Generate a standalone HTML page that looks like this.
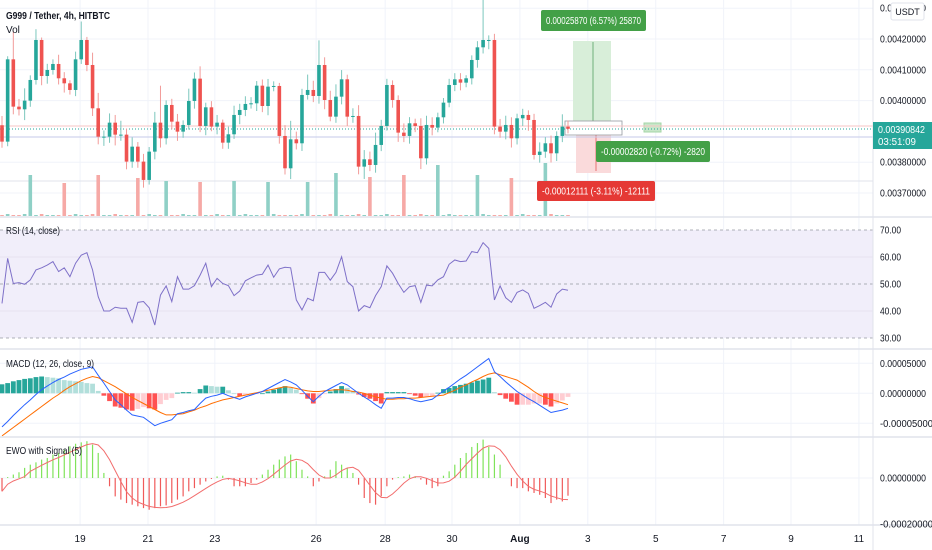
<!DOCTYPE html>
<html><head><meta charset="utf-8"><style>
body{margin:0;background:#fff;overflow:hidden}
svg{display:block;font-family:"Liberation Sans",sans-serif}
</style></head><body>
<svg id="c" width="932" height="550" viewBox="0 0 932 550">
<rect x="0" y="0" width="932" height="550" fill="#fff"/>
<g id="grid"></g>
<g id="main"></g>
<g id="rsi"></g>
<g id="macd"></g>
<g id="ewo"></g>
<g id="axes"></g>
<text x="6" y="19" font-size="10" font-weight="bold" fill="#131722" textLength="104" lengthAdjust="spacingAndGlyphs">G999 / Tether, 4h, HITBTC</text>
<text x="6" y="33" font-size="10" fill="#131722">Vol</text>
<text x="6" y="234" font-size="10" fill="#131722" textLength="54" lengthAdjust="spacingAndGlyphs">RSI (14, close)</text>
<text x="6" y="367" font-size="10" fill="#131722" textLength="88" lengthAdjust="spacingAndGlyphs">MACD (12, 26, close, 9)</text>
<text x="6" y="454" font-size="10" fill="#131722" textLength="76" lengthAdjust="spacingAndGlyphs">EWO with Signal (5)</text>
</svg>
<script>
// ---- data (prices in 1e-8 units) ----
const closes=[386680,413400,398040,397170,399990,406700,419680,407990,409940,411890,407240,405610,403450,413400,419680,411560,397500,388300,388300,392840,388950,388950,380190,385050,380190,374240,383430,392840,387760,398580,393170,389920,392090,399880,407130,391760,397820,391550,392840,386350,389060,395340,396960,398910,399120,404850,398250,404530,404750,388520,378020,387430,386140,401830,403450,401500,411560,400200,394790,401280,406910,394790,395010,378560,380940,379100,385600,391760,405070,400200,389600,388520,392630,391760,381270,392090,391220,394580,399340,405070,406910,405830,407240,413190,417300,419680,419680,391550,389920,392090,387760,394250,395340,393710,382350,383430,386140,382890,388520,391550,390842];
const firstOpen=392000;
const wickHi=[3000,1000,9000,2500,4000,1500,3500,800,2000,1500,3000,2000,1000,2500,6000,1000,4000,5000,2000,3000,2500,4500,2000,3000,1500,2500,1500,3500,12000,1500,2000,2500,1500,4000,2000,4000,1500,2000,2500,1000,2500,3000,2000,2500,2000,1500,2000,2500,1500,1000,3500,6000,2500,2000,5000,3000,8000,2500,3000,4000,3000,1500,2500,3500,3000,2500,4000,2000,2000,1500,1500,3000,2000,1500,2500,3000,2500,1500,1500,2000,2000,2000,1000,1500,2000,13000,1500,2000,2500,3000,2500,1500,2000,1500,2000,3000,2000,2500,1500,4000,2000];
const wickLo=[2000,1500,2500,2000,3500,2000,1500,3000,2500,1500,2000,3000,1500,2000,1500,2000,2500,2500,3000,2000,3500,2000,2500,2000,2000,2500,1500,2500,3000,2000,2500,3000,2000,1500,2500,2000,3000,1500,2500,2000,2000,1500,3000,2000,1500,2500,2000,3000,1500,2500,2000,3500,2000,2500,1500,2000,2500,3000,1500,2000,2500,3000,2000,2500,4000,2000,2500,2000,1500,2500,3000,2000,2500,2000,3500,2000,2500,1500,2000,1500,2000,2500,1500,2000,2500,2000,3000,2500,2000,2500,3000,2000,2500,3500,1500,2500,2000,3000,2500,2000,1500];
const volume=[1,2,1,1,2,41,1,2,1,1,1,33,1,2,1,1,2,41,1,1,2,1,1,1,38,1,2,1,1,35,1,1,2,1,1,34,1,1,2,1,1,35,1,2,1,1,1,34,2,1,1,1,1,2,34,1,1,1,2,43,1,1,1,2,1,39,1,1,2,1,1,41,1,1,2,1,1,51,1,2,1,1,1,1,41,2,1,1,1,1,38,1,2,1,1,1,53,2,1,1,1];
const rsiVals=[42.8,59.5,50.2,50.5,49.9,51.5,55.2,56.0,57.0,58.3,54.6,56.0,52.7,57.7,60.7,61.6,55.2,45.3,40.0,40.0,41.4,41.0,41.0,35.8,43.2,43.5,41.2,34.8,45.9,49.3,43.5,52.7,48.1,48.1,49.4,53.3,57.7,49.0,52.1,50.2,49.4,45.7,47.4,51.2,52.3,53.3,53.6,57.0,52.5,55.6,56.2,56.0,44.1,40.4,44.7,43.8,54.3,54.3,51.4,54.3,60.1,50.9,49.0,40.0,42.0,41.2,45.7,49.0,56.7,54.0,50.2,46.9,49.0,49.4,43.2,49.6,49.3,51.5,52.7,57.3,58.9,58.3,58.5,62.0,61.6,65.3,63.2,44.1,49.3,44.9,43.2,46.9,47.8,46.5,41.0,42.0,43.2,41.4,46.3,48.1,47.7];
// MACD in 1e-6 units
const macdLine=[-56,-47,-37,-28,-19,-11,-2,6,12,18,23,27,32,36,40,42,44,30,17,3,-11,-19,-28,-36,-38,-40,-47,-54,-50,-47,-44,-34,-32,-29,-27,-17,-8,-5,-3,0,-4,-7,-10,-6,-3,0,3,8,13,18,23,19,14,5,-5,-14,-5,3,8,13,18,14,7,0,-6,-12,-19,-25,-8,-8,-7,-7,-9,-12,-14,-12,-10,-3,4,10,17,24,30,37,44,51,58,36,28,19,11,3,-3,-9,-14,-20,-26,-32,-30,-28,-25];
const signalLine=[-71,-64,-57,-50,-43,-36,-29,-22,-15,-8,-2,5,11,16,21,25,28,26,21,16,11,5,-1,-7,-12,-17,-22,-27,-32,-36,-36,-35,-34,-31,-28,-24,-21,-17,-14,-11,-9,-7,-5,-3,-1,1,3,5,7,9,11,10,8,6,4,3,3,4,5,6,6,5,3,2,0,-3,-6,-8,-10,-10,-9,-9,-8,-8,-7,-6,-5,-4,-3,1,5,10,14,19,23,28,32,34,31,28,25,22,16,10,3,-3,-7,-10,-13,-16,-19];
// EWO in 1e-6 units
const ewoVals=[-58,4,15,25,44,58,68,80,87,102,109,123,138,149,155,160,145,109,22,-36,-80,-94,-109,-116,-123,-131,-138,-131,-123,-119,-109,-94,-80,-58,-44,-29,-15,-4,7,10,-7,-36,-36,-36,-22,-7,15,36,58,80,94,102,73,36,7,-36,-15,7,36,73,58,44,22,-29,-87,-109,-116,-80,-36,-7,4,7,15,7,-7,-29,-44,-36,10,29,58,87,109,135,152,167,135,102,58,0,-36,-44,-44,-58,-65,-73,-87,-109,-94,-102,-77];
const priceTicks=[430000,420000,410000,400000,380000,370000];
const rsiTicks=[70,60,50,40,30];
const macdTicks=[50,0,-50];
const ewoTicks=[0,-200];
const timeLabels=["19","21","23","26","28","30","Aug","3","5","7","9","11"];
const timeIdx=[13.8,25.8,37.6,55.5,67.7,79.5,91.5,103.5,115.5,127.5,139.4,151.4];

// ---- scales ----
const NS="http://www.w3.org/2000/svg";
const PW=873;
function xOf(i){return 2+i*5.66;}
function yPrice(p){return 39+(420000-p)/10000*30.8;}
function yVol(v){return 216-v;}
function yRsi(r){return 230+(70-r)*2.7;}
function yMacd(v){return 393.3-v*0.6;}
function yEwo(v){return 478-v*0.23;}
function mk(tag,attrs,parent){const e=document.createElementNS(NS,tag);for(const k in attrs)e.setAttribute(k,attrs[k]);parent.appendChild(e);return e;}
const G=document.getElementById('grid'),M=document.getElementById('main'),R=document.getElementById('rsi'),MC=document.getElementById('macd'),E=document.getElementById('ewo'),A=document.getElementById('axes');

// grid
for(let k=0;k<timeIdx.length;k++){const x=xOf(timeIdx[k]);
 const l=mk('line',{x1:x,x2:x,y1:0,y2:525,stroke:'#f0f3fa','stroke-width':1},G);
 
 }
for(const p of priceTicks){const l=mk('line',{x1:0,x2:PW,y1:yPrice(p),y2:yPrice(p),stroke:'#f0f3fa'},G);
 
 }
for(const v of [50,0,-50]){mk('line',{x1:0,x2:PW,y1:yMacd(v),y2:yMacd(v),stroke:'#f0f3fa'},G);}
mk('line',{x1:0,x2:PW,y1:yEwo(0),y2:yEwo(0),stroke:'#f0f3fa'},G);
mk('line',{x1:0,x2:PW,y1:181,y2:181,stroke:'#e0e3eb'},G);

// volume
for(let i=0;i<closes.length;i++){const o=i?closes[i-1]:firstOpen;const up=closes[i]>=o;
 const r=mk('rect',{x:xOf(i)-1.8,y:yVol(volume[i]),width:3.6,height:volume[i],fill:up?'#8fd0c6':'#f6a9a6'},M);
 
 }

// position tool
mk('rect',{x:573,y:41,width:38,height:84,fill:'#d8eed9'},M);
mk('line',{x1:593,x2:593,y1:42,y2:121,stroke:'#6fb07a'},M);
mk('rect',{x:576,y:135,width:35,height:38,fill:'#fadadb'},M);
mk('line',{x1:596,x2:596,y1:135,y2:171,stroke:'#e57373'},M);
mk('rect',{x:565,y:121,width:57,height:14,fill:'#fff',stroke:'#9598a1','stroke-width':0.8},M);
mk('rect',{x:644,y:123,width:17,height:9,fill:'#c8e6c9',stroke:'#a5d6a7'},M);

// price lines
mk('line',{x1:0,x2:PW,y1:126,y2:126,stroke:'#f7c5c5','stroke-width':1},M);
mk('line',{x1:0,x2:PW,y1:129,y2:129,stroke:'#26a69a','stroke-width':1,'stroke-dasharray':'1 2'},M);
mk('line',{x1:0,x2:PW,y1:137,y2:137,stroke:'#c5cae9','stroke-width':1},M);

// candles
for(let i=0;i<closes.length;i++){const o=i?closes[i-1]:firstOpen,c=closes[i];const up=c>=o;
 const col=up?'#26a69a':'#ef5350';const hi=Math.max(o,c)+(wickHi[i]||1500),lo=Math.min(o,c)-(wickLo[i]||1500);
 const x=xOf(i);
 const w=mk('line',{x1:x,x2:x,y1:yPrice(hi),y2:yPrice(lo),stroke:up?'#7cc7bd':'#f29b99','stroke-width':1},M);
 
 
 const yt=yPrice(Math.max(o,c)),yb=yPrice(Math.min(o,c));
 const b=mk('rect',{x:x-1.8,y:yt,width:3.6,height:Math.max(1,yb-yt),fill:col},M);
 
 }

// position labels
function label(x,y,w,h,fill,txt,name){const g=mk('g',{},M);
 
 
 mk('rect',{x:x,y:y,width:w,height:h,rx:2,fill:fill},g);
 mk('text',{x:x+5,y:y+h/2+3.5,'font-size':10,fill:'#fff',textLength:w-10,lengthAdjust:'spacingAndGlyphs'},g).textContent=txt;}
label(541,10,105,21,'#43a047','0.00025870 (6.57%) 25870','target-label');
label(596,141,114,21,'#43a047','-0.00002820 (-0.72%) -2820','pnl-label');
label(537,181,118,20,'#e53935','-0.00012111 (-3.11%) -12111','stop-label');

// RSI
mk('rect',{x:0,y:yRsi(70),width:PW,height:yRsi(30)-yRsi(70),fill:'#f1eefa'},R);
for(const v of [70,50,30]){mk('line',{x1:0,x2:PW,y1:yRsi(v),y2:yRsi(v),stroke:'#9598a1','stroke-dasharray':'3 3','stroke-width':0.8},R);}
for(const v of [60,40]){mk('line',{x1:0,x2:PW,y1:yRsi(v),y2:yRsi(v),stroke:'#e6e3f0'},R);}
{const pl=mk('polyline',{points:rsiVals.map((v,i)=>xOf(i)+','+yRsi(v)).join(' '),fill:'none',stroke:'#7e70c8','stroke-width':1},R);
 
 }

// MACD
for(let i=0;i<macdLine.length;i++){const h=macdLine[i]-signalLine[i];const ph=i?macdLine[i-1]-signalLine[i-1]:h;
 let col;if(h>=0)col=h>=ph?'#26a69a':'#b2dfdb';else col=h<ph?'#ff5252':'#ffcdd2';
 const y0=yMacd(0),y1=yMacd(h);
 const r=mk('rect',{x:xOf(i)-2.4,y:Math.min(y0,y1),width:4.8,height:Math.max(0.8,Math.abs(y1-y0)),fill:col},MC);
 
 }
{const pl=mk('polyline',{points:signalLine.map((v,i)=>xOf(i)+','+yMacd(v)).join(' '),fill:'none',stroke:'#ff6d00','stroke-width':1},MC);
 
 
 const p2=mk('polyline',{points:macdLine.map((v,i)=>xOf(i)+','+yMacd(v)).join(' '),fill:'none',stroke:'#2962ff','stroke-width':1},MC);
 
 }

// EWO
for(let i=0;i<ewoVals.length;i++){const v=ewoVals[i];
 const l=mk('line',{x1:xOf(i),x2:xOf(i),y1:yEwo(0),y2:yEwo(v),stroke:v>=0?'#7fe35a':'#f05a5a','stroke-width':1.2},E);
 
 }
{const sig=ewoVals.map((v,i)=>{const s=ewoVals.slice(Math.max(0,i-4),i+1);return s.reduce((a,b)=>a+b,0)/s.length;});
 const pl=mk('polyline',{points:sig.map((v,i)=>xOf(i)+','+yEwo(v)).join(' '),fill:'none',stroke:'#f26d6d','stroke-width':1},E);
 
 }

// separators and axes
for(const y of [217,349,437,525]){mk('line',{x1:0,x2:932,y1:y,y2:y,stroke:'#e0e3eb','stroke-width':1.5},A);}
mk('line',{x1:PW,x2:PW,y1:0,y2:550,stroke:'#e0e3eb'},A);
function axText(x,y,txt,name,bold,len){const at={x:x,y:y,'font-size':10,fill:'#131722','font-weight':bold?'bold':'normal'};
 if(len){at.textLength=len;at.lengthAdjust='spacingAndGlyphs';}
 const t=mk('text',at,A);t.textContent=txt;
 
 return t;}
for(const p of priceTicks){axText(880,yPrice(p)+3.5,(p/1e8).toFixed(8),'price-tick-label',false,46);}
for(const v of rsiTicks){axText(880,yRsi(v)+3.5,v.toFixed(2),'rsi-tick-label',false,21);}
for(const v of macdTicks){const s=(v/1e6).toFixed(8);axText(880,yMacd(v)+3.5,s,'macd-tick-label',false,s.length>10?53:46);}
for(const v of ewoTicks){const s=(v/1e6).toFixed(8);axText(880,yEwo(v)+3.5,s,'ewo-tick-label',false,s.length>10?53:46);}
for(let k=0;k<timeLabels.length;k++){const t=axText(xOf(timeIdx[k]),542,timeLabels[k],'time-tick-label',timeLabels[k]==='Aug');t.setAttribute('text-anchor','middle');}
// USDT badge
{const g=mk('g',{},A);
 
 
 mk('rect',{x:891,y:3,width:33,height:17,rx:2,fill:'#fff',stroke:'#e0e3eb'},g);
 mk('text',{x:907.5,y:15,'font-size':9,fill:'#131722','text-anchor':'middle'},g).textContent='USDT';}
// current price label
{const g=mk('g',{},A);
 
 
 mk('rect',{x:873,y:122,width:59,height:27,fill:'#26a69a'},g);
 mk('text',{x:878,y:133,'font-size':10,fill:'#fff',textLength:47,lengthAdjust:'spacingAndGlyphs'},g).textContent=(closes[closes.length-1]/1e8).toFixed(8);
 mk('text',{x:878,y:145,'font-size':10,fill:'#fff',textLength:38,lengthAdjust:'spacingAndGlyphs'},g).textContent='03:51:09';}
</script>
</body></html>
